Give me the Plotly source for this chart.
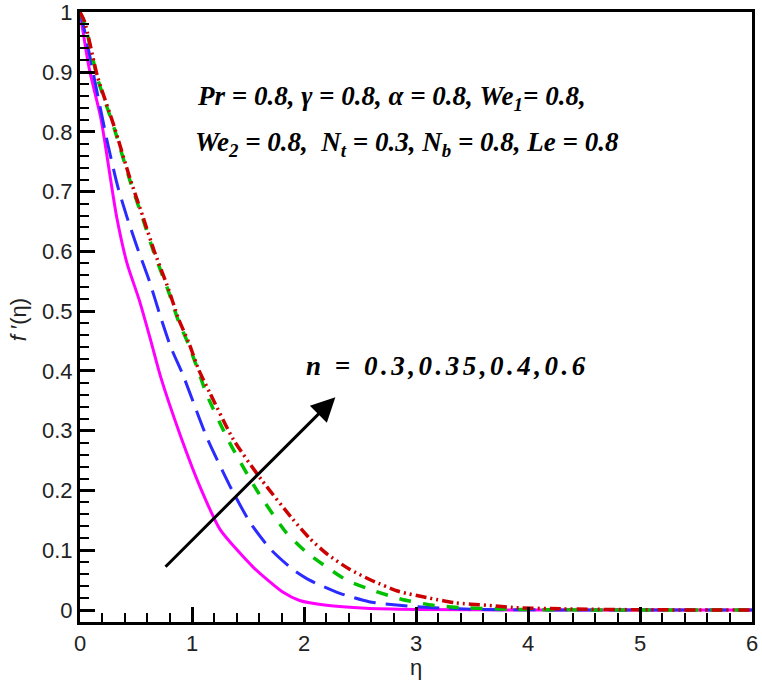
import plotly.graph_objects as go

# eta values and f'(eta)
eta_n030 = [0, 0.083, 0.187, 0.29, 0.33, 0.42, 0.53, 0.63, 0.72, 0.90, 1.07, 1.25, 1.55, 1.81, 1.96, 2.2, 2.55, 3.0, 4.0, 6.0]
f_n030 = [1.0, 0.905, 0.822, 0.70, 0.655, 0.58, 0.518, 0.452, 0.39, 0.29, 0.207, 0.135, 0.071, 0.030, 0.016, 0.008, 0.003, 0.001, 0.0, 0.0]

eta_n035 = [0, 0.04, 0.14, 0.25, 0.335, 0.42, 0.51, 0.62, 0.72, 0.81, 0.92, 1.13, 1.34, 1.52, 1.70, 1.90, 2.05, 2.32, 2.58, 2.85, 3.15, 3.6, 4.5, 6.0]
f_n035 = [1.0, 0.97, 0.878, 0.778, 0.71, 0.657, 0.607, 0.55, 0.49, 0.44, 0.393, 0.29, 0.207, 0.146, 0.102, 0.068, 0.05, 0.028, 0.014, 0.008, 0.004, 0.001, 0.0, 0.0]

eta_n040 = [0, 0.04, 0.157, 0.305, 0.45, 0.56, 0.66, 0.79, 0.88, 0.97, 1.06, 1.13, 1.33, 1.58, 1.84, 2.02, 2.21, 2.39, 2.63, 2.87, 3.15, 3.42, 3.9, 4.8, 6.0]
f_n040 = [1.0, 0.983, 0.889, 0.806, 0.716, 0.655, 0.598, 0.533, 0.483, 0.444, 0.398, 0.361, 0.282, 0.20, 0.13, 0.097, 0.071, 0.049, 0.032, 0.018, 0.008, 0.004, 0.001, 0.0, 0.0]

eta_n060 = [0, 0.04, 0.157, 0.305, 0.45, 0.56, 0.66, 0.79, 0.88, 0.97, 1.06, 1.16, 1.37, 1.62, 1.90, 2.05, 2.21, 2.41, 2.61, 2.85, 3.12, 3.35, 3.63, 3.89, 4.3, 5.0, 6.0]
f_n060 = [1.0, 0.985, 0.892, 0.809, 0.72, 0.659, 0.602, 0.537, 0.487, 0.448, 0.402, 0.363, 0.285, 0.218, 0.152, 0.12, 0.093, 0.068, 0.049, 0.031, 0.020, 0.012, 0.008, 0.004, 0.002, 0.0005, 0.0]

x_ticks = [0, 1, 2, 3, 4, 5, 6]
y_ticks = [0, 0.1, 0.2, 0.3, 0.4, 0.5, 0.6, 0.7, 0.8, 0.9, 1.0]
y_tick_text = ["0", "0.1", "0.2", "0.3", "0.4", "0.5", "0.6", "0.7", "0.8", "0.9", "1"]

fig = go.Figure()
fig.add_trace(go.Scatter(x=eta_n030, y=f_n030, mode="lines", line=dict(color="#FF00FF", width=3, shape="spline", smoothing=0.6), name="n=0.3"))
fig.add_trace(go.Scatter(x=eta_n035, y=f_n035, mode="lines", line=dict(color="#2B2BFF", width=3, dash="22px,10px", shape="spline", smoothing=0.6), name="n=0.35"))
fig.add_trace(go.Scatter(x=eta_n040, y=f_n040, mode="lines", line=dict(color="#00C000", width=3.5, dash="12px,12px", shape="spline", smoothing=0.6), name="n=0.4"))
fig.add_trace(go.Scatter(x=eta_n060, y=f_n060, mode="lines", line=dict(color="#CC0000", width=3.5, dash="11px,4px,2px,4px,2px,4px", shape="spline", smoothing=0.6), name="n=0.6"))

tfont = dict(family="Liberation Serif", size=27, color="black")
fig.add_annotation(x=1.03, y=0.856, xref="x", yref="y", xanchor="left", yanchor="middle", showarrow=False,
                   text="<b><i>Pr = 0.8, γ = 0.8, α = 0.8, We<sub>1</sub>= 0.8,</i></b>", font=tfont)
fig.add_annotation(x=1.01, y=0.78, xref="x", yref="y", xanchor="left", yanchor="middle", showarrow=False,
                   text="<b><i>We<sub>2</sub> = 0.8,  N<sub>t</sub> = 0.3, N<sub>b</sub> = 0.8, Le = 0.8</i></b>", font=tfont)
fig.add_annotation(x=3.28, y=0.409, xref="x", yref="y", xanchor="center", yanchor="middle", showarrow=False,
                   text="<b><i>n = 0.3,0.35,0.4,0.6</i></b>", font=dict(family="Liberation Serif", size=27, color="black"))
fig.add_annotation(x=2.28, y=0.356, ax=0.75, ay=0.07, xref="x", yref="y", axref="x", ayref="y",
                   showarrow=True, arrowhead=2, arrowsize=1.6, arrowwidth=3, arrowcolor="black", text="")

# axis titles
fig.add_annotation(x=0.5, y=-0.074, xref="paper", yref="paper", text="η", showarrow=False,
                   font=dict(family="Liberation Sans", size=22, color="#222"), yanchor="middle")
fig.add_annotation(x=-0.092, y=0.495, xref="paper", yref="paper", text="<i>f</i> ′(η)", showarrow=False, textangle=-90,
                   font=dict(family="Liberation Sans", size=22, color="#222"), xanchor="center", yanchor="middle")

axis_common = dict(showline=True, linecolor="black", linewidth=3, mirror=True, showgrid=False, zeroline=False,
                   ticks="inside", tickcolor="black", tickwidth=3, ticklen=15, automargin=False,
                   ticklabeloverflow="allow",
                   tickfont=dict(family="Liberation Sans", size=22, color="#222"))
fig.update_xaxes(range=[0, 6], tickvals=x_ticks,
                 minor=dict(dtick=0.2, ticks="inside", ticklen=9, tickwidth=2, tickcolor="black", showgrid=False),
                 **axis_common)
fig.update_yaxes(range=[-0.02, 1.0005], tickvals=y_ticks, ticktext=y_tick_text,
                 minor=dict(dtick=0.02, ticks="inside", ticklen=9, tickwidth=2, tickcolor="black", showgrid=False),
                 **axis_common)

fig.update_layout(width=762, height=683, margin=dict(l=80, r=10, t=12, b=61),
                  plot_bgcolor="white", paper_bgcolor="white", showlegend=False)

post = """
document.body.style.margin='0';document.body.style.overflow='hidden';
(function(){
  function fix(){
    document.querySelectorAll('.annotation-text').forEach(function(t){
      if (t.textContent.indexOf('0.35') >= 0) { t.style.letterSpacing = '3.5px'; }
    });
  }
  fix(); setTimeout(fix, 0); setTimeout(fix, 100);
})();
"""
fig.write_html("out.html", config={"displayModeBar": False}, post_script=post)
